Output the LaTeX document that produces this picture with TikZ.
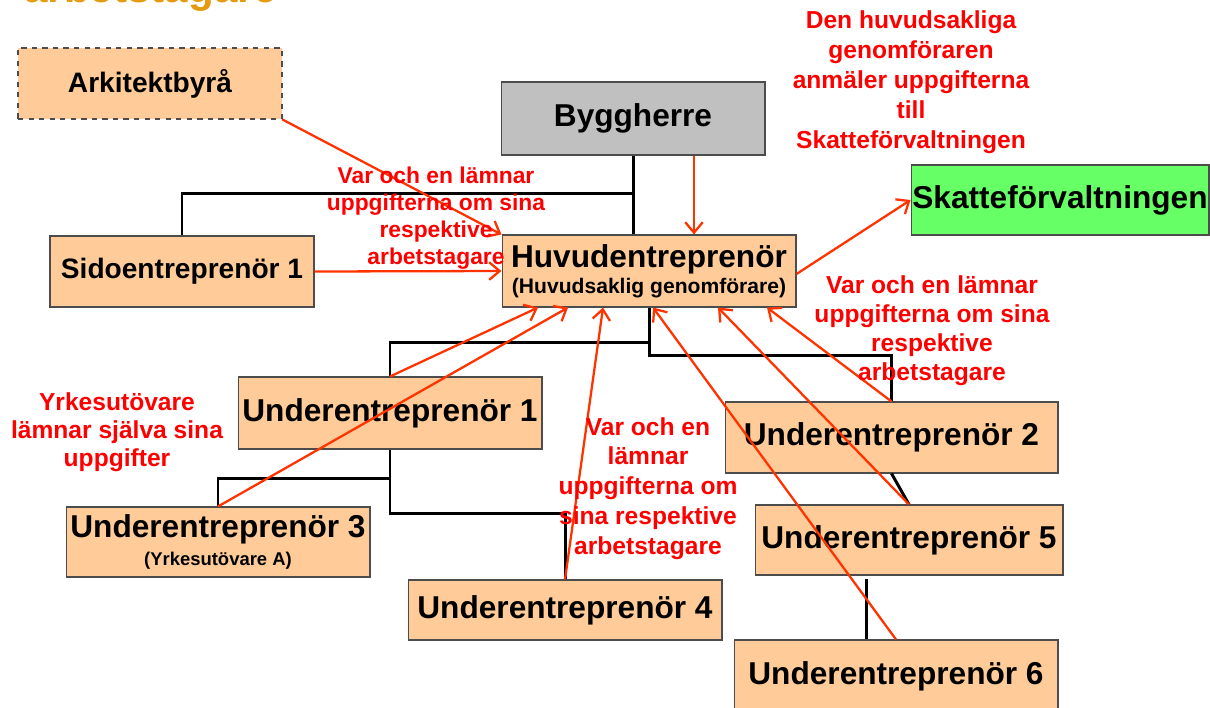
\documentclass[tikz,border=0pt]{standalone}
\usepackage{fontspec}
\setmainfont{Liberation Sans}
\usetikzlibrary{arrows.meta,calc}
\definecolor{peach}{RGB}{255,204,153}
\definecolor{boxgrey}{RGB}{192,192,192}
\definecolor{skgreen}{RGB}{102,255,102}
\definecolor{arrred}{RGB}{255,51,0}
\definecolor{titleorange}{RGB}{228,155,15}
\tikzset{
  entbox/.style={
    draw=black!70,line width=0.6pt,fill=peach,inner sep=0pt,align=center,
    font=\fontsize{18}{21}\selectfont\bfseries,
  },
  tree/.style={line width=1.7pt,black},
  report/.style={arrred,line width=1.3pt,-{Straight Barb[length=6pt,width=10pt]}},
  note/.style={text=red,align=center,font=\fontsize{14}{17}\selectfont\bfseries},
}

\begin{document}
\begin{tikzpicture}[x=0.02cm,y=-0.02cm]
    \useasboundingbox (0,0) rectangle (1210,707);
    % title (cut by the page)
    \node[anchor=base west,text=titleorange,font=\fontsize{24}{28}\selectfont\bfseries] (ttl) at (18,2) {arbetstagare};
    % boxes
    \node[entbox,dashed,minimum width=5.28cm,minimum height=1.42cm,font=\fontsize{16}{19}\selectfont\bfseries] (arch) at (150,83.5) {Arkitektbyrå};
    \node[entbox,fill=boxgrey,minimum width=5.28cm,minimum height=1.46cm] (bygg) at (633,118.5) {Byggherre};
    \node[entbox,minimum width=5.88cm,minimum height=1.44cm] (huvud) at (649,271) {Huvudentreprenör\\[-6pt]{\fontsize{12}{14}\selectfont (Huvudsaklig genomförare)}};
    \node[entbox,fill=skgreen,minimum width=5.96cm,minimum height=1.40cm] (skatt) at (1060,200) {Skatteförvaltningen};
    \node[entbox,minimum width=5.28cm,minimum height=1.42cm,font=\fontsize{16}{19}\selectfont\bfseries] (sido) at (182,271.5) {Sidoentreprenör 1};
    \node[entbox,minimum width=6.08cm,minimum height=1.44cm] (ue1) at (390,413) {Underentreprenör 1};
    \node[entbox,minimum width=6.66cm,minimum height=1.42cm] (ue2) at (891.5,437.5) {Underentreprenör 2};
    \node[entbox,minimum width=6.08cm,minimum height=1.40cm] (ue3) at (218,542) {Underentreprenör 3\\[-5pt]{\fontsize{10.5}{12}\selectfont (Yrkesutövare A)}};
    \node[entbox,minimum width=6.28cm,minimum height=1.20cm] (ue4) at (565,610) {Underentreprenör 4};
    \node[entbox,minimum width=6.16cm,minimum height=1.40cm] (ue5) at (909,540) {Underentreprenör 5};
    \node[entbox,minimum width=6.48cm,minimum height=1.44cm] (ue6) at (896,676) {Underentreprenör 6};
    % tree
    \draw[tree] (bygg.south) -- (bygg.south |- huvud.north);
    \draw[tree] (bygg.south) ++(0,38) -| (sido.north);
    \draw[tree] (huvud.south) -- ++(0,48) -| (ue2.north);
    \draw[tree] (huvud.south) ++(0,35) -| (ue1.north);
    \draw[tree] (ue1.south) -- ++(0,64) -| (ue4.north);
    \draw[tree] (ue1.south) ++(0,29) -| (ue3.north);
    \draw[tree] (ue2.south) -- (ue5.north);
    \draw[tree] ([xshift=-0.6cm]ue6.north) -- ++(0,-60);
    % arrows
    \draw[report] (arch.south east) -- (huvud.north west);
    \draw[report] (sido.east) -- (huvud.west);
    \draw[report] ([xshift=1.22cm]bygg.south) -- ([xshift=1.22cm]bygg.south |- huvud.north);
    \draw[report] ([yshift=-0.06cm]huvud.east) -- (skatt.west);
    \draw[report] (ue1.north) -- ([xshift=-2.22cm]huvud.south);
    \draw[report] (ue3.north) -- ([xshift=-1.62cm]huvud.south);
    \draw[report] (ue4.north) -- ([xshift=-0.92cm]huvud.south);
    \draw[report] (ue6.north) -- ([xshift=0.08cm]huvud.south);
    \draw[report] (ue5.north) -- ([xshift=1.38cm]huvud.south);
    \draw[report] (ue2.north) -- ([xshift=2.36cm]huvud.south);
    % labels
    \node[note,font=\fontsize{13}{15.3}\selectfont\bfseries] (lblside) at (436,218) {Var och en lämnar\\uppgifterna om sina\\respektive\\arbetstagare};
    \node[note] (lblmain) at (911,82) {Den huvudsakliga\\genomföraren\\anmäler uppgifterna\\till\\Skatteförvaltningen};
    \node[note,font=\fontsize{14}{16.4}\selectfont\bfseries] (lblright) at (932,330.5) {Var och en lämnar\\uppgifterna om sina\\respektive\\arbetstagare};
    \node[note,font=\fontsize{14}{16}\selectfont\bfseries] (lblself) at (117,432) {Yrkesutövare\\lämnar själva sina\\uppgifter};
    \node[note] (lblmid) at (648,488.5) {Var och en\\lämnar\\uppgifterna om\\sina respektive\\arbetstagare};
\end{tikzpicture}
\end{document}
